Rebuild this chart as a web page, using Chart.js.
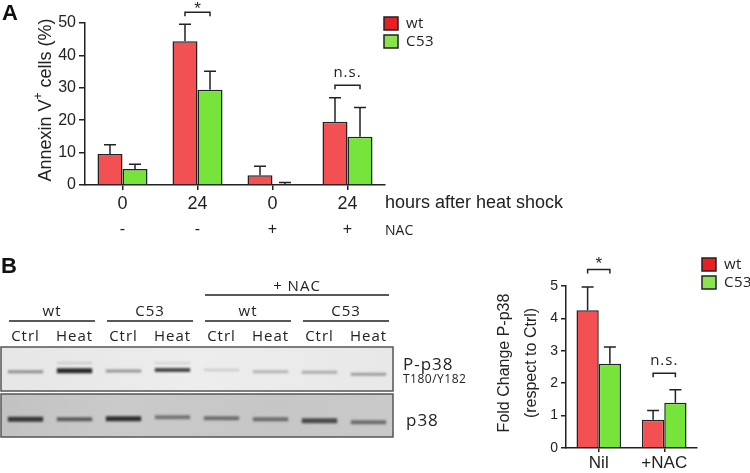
<!DOCTYPE html>
<html>
<head>
<meta charset="utf-8">
<script src="https://cdn.jsdelivr.net/npm/chart.js@4"></script>
<style>
  body { margin: 0; background: #fff; width: 750px; height: 473px; overflow: hidden; position: relative; }
  canvas { position: absolute; }
  #chartA { left: 0; top: 0; }
  #blot { left: 0; top: 250px; }
  #chartB { left: 460px; top: 245px; }
</style>
</head>
<body>
<canvas id="chartA" width="600" height="245"></canvas>
<canvas id="blot" width="480" height="190"></canvas>
<canvas id="chartB" width="290" height="228"></canvas>
<script>
// panel A - annexin V
const hoursLabels = ['0', '24', '0', '24'];
const nacLabels = ['-', '-', '+', '+'];
const wtA = [9.6, 44.4, 3.0, 19.5];
const c53A = [4.9, 29.4, 0.3, 14.9];
const wtAErr = [2.8, 5.2, 2.8, 7.4];
const c53AErr = [1.5, 5.7, 0.5, 9.0];
const sigA = [
  { cat: 1, y: 53.3, textY: 52.8, label: '*' },
  { cat: 3, y: 30.8, textY: 33.2, label: 'n.s.' }
];

// panel B - densitometry
const groupsB = ['Nil', '+NAC'];
const wtB = [4.25, 0.87];
const c53B = [2.6, 1.4];
const wtBErr = [0.72, 0.29];
const c53BErr = [0.52, 0.4];
const sigB = [
  { cat: 0, y: 5.51, textY: 5.52, label: '*' },
  { cat: 1, y: 2.31, textY: 2.57, label: 'n.s.' }
];

// blot lanes
const lanes = ['Ctrl', 'Heat', 'Ctrl', 'Heat', 'Ctrl', 'Heat', 'Ctrl', 'Heat'];
const laneGroups = [
  { label: 'wt', start: 0, n: 2 }, { label: 'C53', start: 2, n: 2 },
  { label: 'wt', start: 4, n: 2 }, { label: 'C53', start: 6, n: 2 }
];
const nacGroup = { label: '+ NAC', start: 4, n: 4 };
const pBandPos = [24.7, 23.7, 24, 23, 23, 24.7, 25.3, 27.3];
const pBandH = [3, 5, 3, 4, 2.5, 3, 3, 3];
const pBandInt = [0.42, 0.92, 0.4, 0.78, 0.16, 0.26, 0.3, 0.36];
const pUpperPos = [17, 16, 17, 16, 17, 17, 17, 17];
const pUpperInt = [0, 0.15, 0, 0.12, 0, 0, 0, 0];
const totBandPos = [72.3, 72.3, 71.7, 70.3, 71.3, 72.3, 73.7, 75.3];
const totBandH = [5, 4, 5, 4, 4, 4, 5, 4];
const totBandInt = [0.82, 0.62, 0.88, 0.48, 0.52, 0.52, 0.72, 0.52];

const RED = 'rgb(242,80,82)';
const GREEN = 'rgb(118,228,58)';
const INK = '#222';

const errorBars = {
  id: 'errorBars',
  afterDatasetsDraw(chart, args, opts) {
    const ctx = chart.ctx, y = chart.scales.y;
    ctx.save();
    ctx.strokeStyle = INK;
    ctx.lineWidth = 1.5;
    chart.data.datasets.forEach((ds, i) => {
      chart.getDatasetMeta(i).data.forEach((bar, j) => {
        const top = y.getPixelForValue(ds.data[j] + ds.errors[j]);
        ctx.beginPath();
        ctx.moveTo(bar.x, bar.y);
        ctx.lineTo(bar.x, top);
        ctx.moveTo(bar.x - opts.cap, top);
        ctx.lineTo(bar.x + opts.cap, top);
        ctx.stroke();
      });
    });
    ctx.restore();
  }
};

const brackets = {
  id: 'brackets',
  afterDraw(chart, args, opts) {
    const ctx = chart.ctx, y = chart.scales.y;
    ctx.save();
    ctx.strokeStyle = INK;
    ctx.fillStyle = INK;
    ctx.lineWidth = 1.5;
    ctx.textAlign = 'center';
    ctx.textBaseline = 'alphabetic';
    opts.items.forEach(it => {
      const x1 = chart.getDatasetMeta(0).data[it.cat].x;
      const x2 = chart.getDatasetMeta(1).data[it.cat].x;
      const yt = y.getPixelForValue(it.y);
      ctx.beginPath();
      ctx.moveTo(x1, yt + opts.leg);
      ctx.lineTo(x1, yt);
      ctx.lineTo(x2, yt);
      ctx.lineTo(x2, yt + opts.leg);
      ctx.stroke();
      ctx.font = it.label === '*' ? '17px Arial' : '15px "Open Sans"';
      ctx.letterSpacing = it.label === '*' ? '0px' : '1px';
      ctx.fillText(it.label, (x1 + x2) / 2, y.getPixelForValue(it.textY));
    });
    ctx.restore();
  }
};

const legendBoxes = {
  id: 'legendBoxes',
  afterDraw(chart, args, opts) {
    const ctx = chart.ctx;
    ctx.save();
    ctx.font = '15px "Open Sans"';
    ctx.letterSpacing = '0.5px';
    ctx.textBaseline = 'middle';
    opts.items.forEach((it, i) => {
      const yy = opts.y + i * 18;
      ctx.fillStyle = it.color;
      ctx.fillRect(opts.x, yy, 14, 13);
      ctx.strokeStyle = INK;
      ctx.lineWidth = 1.5;
      ctx.strokeRect(opts.x, yy, 14, 13);
      ctx.fillStyle = INK;
      ctx.fillText(it.text, opts.x + 22, yy + 7);
    });
    ctx.restore();
  }
};

const panelA = {
  id: 'panelA',
  afterDraw(chart) {
    const ctx = chart.ctx, x = chart.scales.x, area = chart.chartArea;
    ctx.save();
    ctx.fillStyle = '#111';
    ctx.font = 'bold 22px Arial';
    ctx.textBaseline = 'middle';
    ctx.fillText('A', 2, 14);
    ctx.fillStyle = INK;
    ctx.font = '18px Arial';
    ctx.fillText('hours after heat shock', area.right, 203);
    ctx.font = '14px "Open Sans"';
    ctx.fillText('NAC', area.right, 231);
    ctx.textAlign = 'center';
    ctx.font = '16px Arial';
    nacLabels.forEach((t, i) => ctx.fillText(t, x.getPixelForValue(i), 230));
    // y title with superscript
    ctx.translate(46, 100);
    ctx.rotate(-Math.PI / 2);
    const parts = [['Annexin V', '18px Arial', 0], ['+', '12px Arial', -7], [' cells (%)', '18px Arial', 0]];
    let total = 0;
    parts.forEach(p => { ctx.font = p[1]; total += ctx.measureText(p[0]).width; });
    let cx = -total / 2;
    ctx.textAlign = 'left';
    parts.forEach(p => {
      ctx.font = p[1];
      ctx.fillText(p[0], cx, p[2]);
      cx += ctx.measureText(p[0]).width;
    });
    ctx.restore();
  }
};

new Chart(document.getElementById('chartA'), {
  type: 'bar',
  data: {
    labels: hoursLabels,
    datasets: [
      { label: 'wt', data: wtA, errors: wtAErr, backgroundColor: RED, borderColor: INK, borderWidth: 1.5 },
      { label: 'C53', data: c53A, errors: c53AErr, backgroundColor: GREEN, borderColor: INK, borderWidth: 1.5 }
    ]
  },
  options: {
    responsive: false,
    animation: false,
    layout: { padding: { left: 0, right: 215, top: 23, bottom: 0 } },
    datasets: { bar: { categoryPercentage: 0.667, barPercentage: 1 } },
    plugins: {
      legend: { display: false },
      tooltip: { enabled: false },
      errorBars: { cap: 6 },
      brackets: { leg: 4, items: sigA },
      legendBoxes: { x: 384, y: 17, items: [{ text: 'wt', color: 'rgb(232,32,38)' }, { text: 'C53', color: 'rgb(140,226,80)' }] }
    },
    scales: {
      x: {
        grid: { drawOnChartArea: false, offset: false, tickLength: 5, color: INK, lineWidth: 1.5 },
        border: { color: INK, width: 1.5 },
        ticks: { color: INK, font: { family: 'Arial', size: 18 }, padding: 3 },
        afterFit(s) { s.height = 60; }
      },
      y: {
        min: 0, max: 50,
        grid: { drawOnChartArea: false, tickLength: 6, color: INK, lineWidth: 1.5 },
        border: { color: INK, width: 1.5 },
        ticks: { stepSize: 10, color: INK, font: { family: 'Arial', size: 16 }, padding: 3 },
        afterFit(s) { s.width = 85; }
      }
    }
  },
  plugins: [errorBars, brackets, legendBoxes, panelA]
});

// blot drawn as floating bars on lane scale
const bandColor = a => `rgba(25,25,25,${a})`;
const blotFrame = {
  id: 'blotFrame',
  beforeDatasetsDraw(chart) {
    const ctx = chart.ctx, y = chart.scales.y, area = chart.chartArea;
    ctx.save();
    const t0 = y.getPixelForValue(0), t1 = y.getPixelForValue(44);
    const b0 = y.getPixelForValue(47), b1 = y.getPixelForValue(90);
    let g = ctx.createLinearGradient(area.left, 0, area.right, 0);
    g.addColorStop(0, '#e6e6e6'); g.addColorStop(0.5, '#ededed'); g.addColorStop(1, '#e8e8e8');
    ctx.fillStyle = g;
    ctx.fillRect(area.left, t0, area.width, t1 - t0);
    g = ctx.createLinearGradient(area.left, 0, area.right, 0);
    g.addColorStop(0, '#c2c2c2'); g.addColorStop(0.3, '#cacaca'); g.addColorStop(0.7, '#c6c6c6'); g.addColorStop(1, '#c9c9c9');
    ctx.fillStyle = g;
    ctx.fillRect(area.left, b0, area.width, b1 - b0);
    ctx.restore();
    ctx.save();
    ctx.filter = 'blur(1px)';
  },
  afterDatasetsDraw(chart) {
    const ctx = chart.ctx, y = chart.scales.y, x = chart.scales.x, area = chart.chartArea;
    ctx.restore();
    ctx.save();
    ctx.strokeStyle = '#555';
    ctx.lineWidth = 1.5;
    const t0 = y.getPixelForValue(0), t1 = y.getPixelForValue(44);
    const b0 = y.getPixelForValue(47), b1 = y.getPixelForValue(90);
    ctx.strokeRect(area.left, t0, area.width, t1 - t0);
    ctx.strokeRect(area.left, b0, area.width, b1 - b0);

    const lw = area.width / lanes.length;
    const laneLeft = i => x.getPixelForValue(i) - lw / 2;
    ctx.fillStyle = INK;
    ctx.strokeStyle = '#222';
    ctx.textAlign = 'center';
    ctx.textBaseline = 'middle';
    ctx.font = '15px "Open Sans"';
    ctx.letterSpacing = '1px';
    lanes.forEach((t, i) => ctx.fillText(t, x.getPixelForValue(i), area.top - 10));
    laneGroups.concat([nacGroup]).forEach(gp => {
      const isNac = gp === nacGroup;
      const l = laneLeft(gp.start) + 8, r = laneLeft(gp.start + gp.n) - 4;
      const ly = area.top - (isNac ? 52 : 26);
      ctx.beginPath(); ctx.moveTo(l, ly); ctx.lineTo(r, ly); ctx.stroke();
      ctx.fillText(gp.label, (l + r) / 2, ly - (isNac ? 8 : 9));
    });
    ctx.textAlign = 'left';
    ctx.font = '17px "Open Sans"';
    ctx.fillText('P-p38', area.right + 10, y.getPixelForValue(18));
    ctx.fillText('p38', area.right + 13, y.getPixelForValue(74));
    ctx.font = '12px "Open Sans"';
    ctx.letterSpacing = '0.5px';
    ctx.fillText('T180/Y182', area.right + 10, y.getPixelForValue(33));
    ctx.letterSpacing = '0px';
    ctx.fillStyle = '#111';
    ctx.font = 'bold 22px Arial';
    ctx.fillText('B', 1, 17);
    ctx.restore();
  }
};

new Chart(document.getElementById('blot'), {
  type: 'bar',
  data: {
    labels: lanes,
    datasets: [
      { data: pBandPos.map((p, i) => [p - pBandH[i] / 2, p + pBandH[i] / 2]), backgroundColor: pBandInt.map(bandColor) },
      { data: pUpperPos.map(p => [p - 1, p + 1]), backgroundColor: pUpperInt.map(bandColor) },
      { data: totBandPos.map((p, i) => [p - totBandH[i] / 2, p + totBandH[i] / 2]), backgroundColor: totBandInt.map(bandColor) }
    ]
  },
  options: {
    responsive: false,
    animation: false,
    layout: { padding: { left: 1, right: 87, top: 97, bottom: 3 } },
    datasets: { bar: { grouped: false, categoryPercentage: 1, barPercentage: 0.72, borderWidth: 0 } },
    plugins: { legend: { display: false }, tooltip: { enabled: false } },
    scales: {
      x: { display: false },
      y: { display: false, min: 0, max: 90, reverse: true }
    }
  },
  plugins: [blotFrame]
});

const panelB = {
  id: 'panelB',
  afterDraw(chart) {
    const ctx = chart.ctx;
    ctx.save();
    ctx.fillStyle = INK;
    ctx.textAlign = 'center';
    ctx.textBaseline = 'middle';
    ctx.font = '16px Arial';
    ctx.translate(45, 118);
    ctx.rotate(-Math.PI / 2);
    ctx.fillText('Fold Change P-p38', 0, 0);
    ctx.fillText('(respect to Ctrl)', 0, 27);
    ctx.restore();
  }
};

new Chart(document.getElementById('chartB'), {
  type: 'bar',
  data: {
    labels: groupsB,
    datasets: [
      { label: 'wt', data: wtB, errors: wtBErr, backgroundColor: RED, borderColor: INK, borderWidth: 1.5 },
      { label: 'C53', data: c53B, errors: c53BErr, backgroundColor: GREEN, borderColor: INK, borderWidth: 1.5 }
    ]
  },
  options: {
    responsive: false,
    animation: false,
    layout: { padding: { left: 0, right: 53, top: 41, bottom: 0 } },
    datasets: { bar: { categoryPercentage: 0.68, barPercentage: 1 } },
    plugins: {
      legend: { display: false },
      tooltip: { enabled: false },
      errorBars: { cap: 6 },
      brackets: { leg: 4, items: sigB },
      legendBoxes: { x: 242, y: 13, items: [{ text: 'wt', color: 'rgb(232,32,38)' }, { text: 'C53', color: 'rgb(140,226,80)' }] }
    },
    scales: {
      x: {
        grid: { drawOnChartArea: false, offset: false, tickLength: 4, color: INK, lineWidth: 1.5 },
        border: { color: INK, width: 1.5 },
        ticks: { color: INK, font: { family: 'Arial', size: 17 }, padding: 1 },
        afterFit(s) { s.height = 25; }
      },
      y: {
        min: 0, max: 5,
        grid: { drawOnChartArea: false, tickLength: 5, color: INK, lineWidth: 1.5 },
        border: { color: INK, width: 1.5 },
        ticks: { stepSize: 1, color: INK, font: { family: 'Arial', size: 14 }, padding: 3 },
        afterFit(s) { s.width = 106; }
      }
    }
  },
  plugins: [errorBars, brackets, legendBoxes, panelB]
});
</script>
</body>
</html>
